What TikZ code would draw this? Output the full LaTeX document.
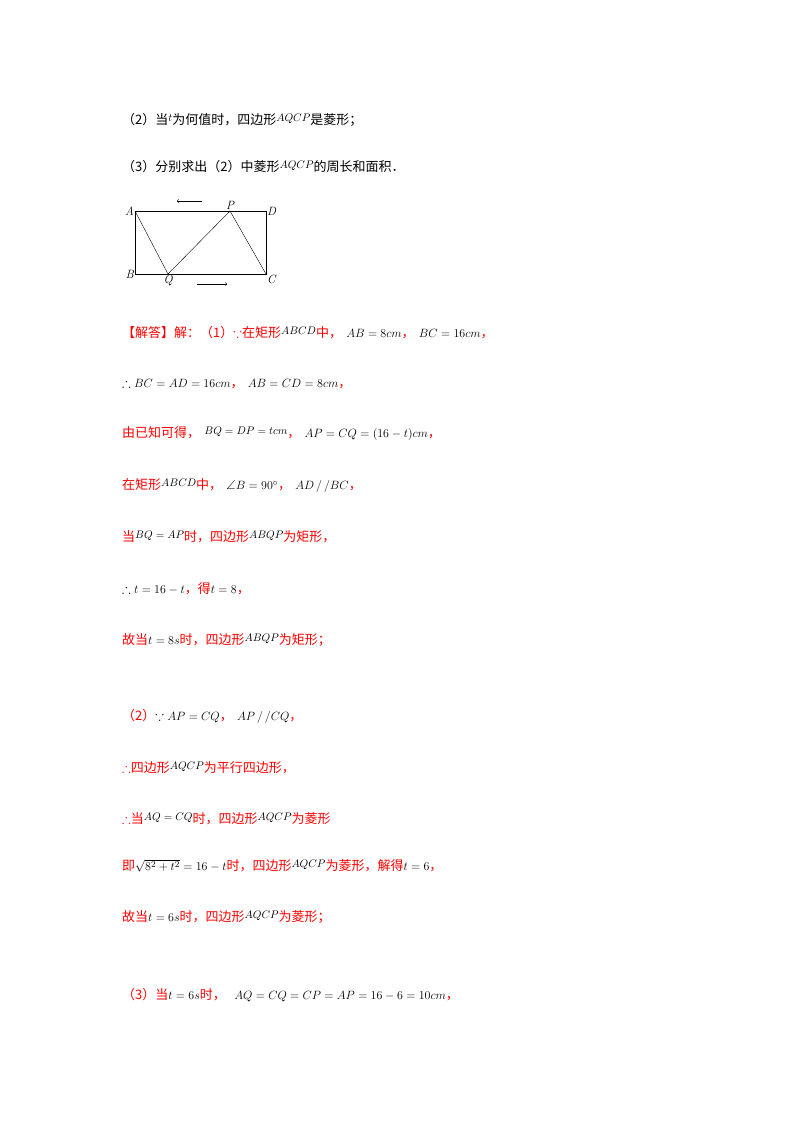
\documentclass[tikz,border=0pt]{standalone}
\usepackage{amssymb}
\usepackage{fontspec}
\newfontfamily\cjk{Noto Sans CJK SC}
\newcommand{\rd}[1]{\textcolor{red}{\cjk #1}}
\newcommand{\sm}[1]{\raisebox{3pt}{\fontsize{11}{11}\selectfont$#1$}}
\begin{document}
\begin{tikzpicture}[x=1pt,y=-1pt,
 ln/.style={anchor=west,font=\fontsize{13}{13}\selectfont,inner sep=0pt},
 lab/.style={font=\fontsize{12}{12}\selectfont\itshape,inner sep=1pt}]
\useasboundingbox (0,0) rectangle (800,1132);
\node[ln] (l1) at (122,120) {{\cjk （2）当}\sm{t}{\cjk 为何值时，四边形}\sm{AQCP}{\cjk 是菱形；}};
\node[ln] (l2) at (122,167) {{\cjk （3）分别求出（2）中菱形}\sm{AQCP}{\cjk 的周长和面积．}};
\coordinate (A) at (135,211); \coordinate (D) at (266,211);
\coordinate (B) at (135,274); \coordinate (C) at (266,274);
\coordinate (P) at (230,211); \coordinate (Q) at (168,274);
\draw[line width=0.8pt] (A)--(D)--(C)--(B)--cycle;
\draw (A)--(Q)--(P)--(C);
\node[lab,anchor=east] at (A) {A}; \node[lab,anchor=west] at (D) {D};
\node[lab,anchor=east] at (B) {B}; \node[lab,anchor=north west] at (C) {C};
\node[lab,anchor=south] at (P) {P}; \node[lab,anchor=north] at (Q) {Q};
\coordinate (ta) at (202,201); \coordinate (tb) at (177,201);
\coordinate (ba) at (197,284); \coordinate (bb) at (227,284);
\draw[-to] (ta)--(tb); \draw[-to] (ba)--(bb);
\begin{scope}[every node/.append style={font=\fontsize{13}{13}\selectfont}]
\node[ln] (s1) at (122,333) {\rd{【解答】解：（1）$\because$在矩形}\sm{ABCD}\rd{中，}~$AB=8cm$\rd{，}~$BC=16cm$\rd{，}};
\node[ln] (s2) at (122,384) {$\therefore BC=AD=16cm$\rd{，}~$AB=CD=8cm$\rd{，}};
\node[ln] (s3) at (122,434) {\rd{由已知可得，}~\sm{BQ=DP=tcm}\rd{，}~$AP=CQ=(16-t)cm$\rd{，}};
\node[ln] (s4) at (122,486) {\rd{在矩形}\sm{ABCD}\rd{中，}~$\angle B=90^\circ$\rd{，}~$AD\,/\,/BC$\rd{，}};
\node[ln] (s5) at (122,537) {\rd{当}\sm{BQ=AP}\rd{时，四边形}\sm{ABQP}\rd{为矩形，}};
\node[ln] (s6) at (122,589) {$\therefore t=16-t$\rd{，得}$t=8$\rd{，}};
\node[ln] (s7) at (122,640) {\rd{故当}$t=8s$\rd{时，四边形}\sm{ABQP}\rd{为矩形；}};
\node[ln] (s8) at (122,716) {\rd{（2）}$\because AP=CQ$\rd{，}~$AP\,/\,/CQ$\rd{，}};
\node[ln] (s9) at (122,768) {\rd{$\therefore$四边形}\sm{AQCP}\rd{为平行四边形，}};
\node[ln] (s10) at (122,819) {\rd{$\therefore$当}\sm{AQ=CQ}\rd{时，四边形}\sm{AQCP}\rd{为菱形}};
\node[ln] (s11) at (122,866) {\rd{即}$\sqrt{8^2+t^2}=16-t$\rd{时，四边形}\sm{AQCP}\rd{为菱形，解得}$t=6$\rd{，}};
\node[ln] (s12) at (122,917) {\rd{故当}$t=6s$\rd{时，四边形}\sm{AQCP}\rd{为菱形；}};
\node[ln] (s13) at (122,995) {\rd{（3）当}$t=6s$\rd{时，}~~$AQ=CQ=CP=AP=16-6=10cm$\rd{，}};
\end{scope}
\end{tikzpicture}
\end{document}
